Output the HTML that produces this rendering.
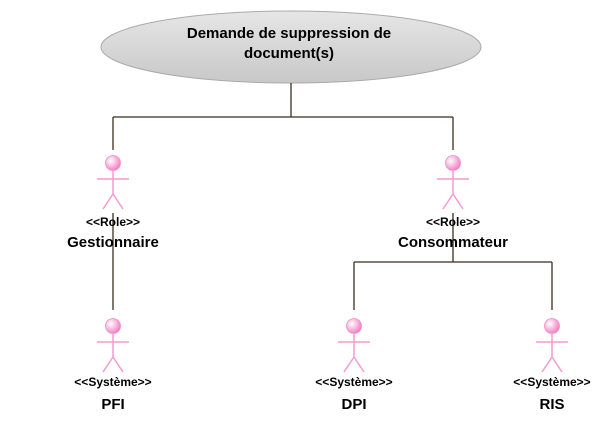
<!DOCTYPE html>
<html><head><style>body{margin:0;background:#fff}svg{display:block}</style></head><body>
<svg width="608" height="424" xmlns="http://www.w3.org/2000/svg" font-family="Liberation Sans, sans-serif" font-weight="bold">
<defs><radialGradient id="g" cx="0.35" cy="0.35" r="0.7"><stop offset="0" stop-color="#fff"/><stop offset="1" stop-color="#f37ac0"/></radialGradient>
<linearGradient id="e" x1="0" y1="0" x2="0" y2="1"><stop offset="0" stop-color="#e6e6e6"/><stop offset="1" stop-color="#c8c8c8"/></linearGradient></defs>
<ellipse cx="291" cy="47" rx="190" ry="36" fill="url(#e)" stroke="#aaa"/>
<text x="289" y="38" font-size="15" text-anchor="middle">Demande de suppression de</text>
<text x="289" y="58" font-size="15" text-anchor="middle">document(s)</text>
<g stroke="#3b2f1e" stroke-width="1.3" fill="none">
<path d="M291 83V117M113 117H453M113 117V150M453 117V150M113 213V310M453 213V262M354 262H552M354 262V310M552 262V310"/>
</g>
<g id="a" stroke="#f59ad0" stroke-width="1.5" fill="none">
</g>
<g stroke="#f59ad0" stroke-width="1.5">
<path d="M113 171V194M97 179H129M113 194L103 209M113 194L123 209"/>
<path d="M453 171V194M437 179H469M453 194L443 209M453 194L463 209"/>
<path d="M113 334V357M97 342H129M113 357L103 372M113 357L123 372"/>
<path d="M354 334V357M338 342H370M354 357L344 372M354 357L364 372"/>
<path d="M552 334V357M536 342H568M552 357L542 372M552 357L562 372"/>
</g>
<g fill="url(#g)" stroke="#f28cc6" stroke-width="0.8">
<circle cx="113" cy="163" r="7.5"/><circle cx="453" cy="163" r="7.5"/>
<circle cx="113" cy="326" r="7.5"/><circle cx="354" cy="326" r="7.5"/><circle cx="552" cy="326" r="7.5"/>
</g>
<g text-anchor="middle" fill="#000">
<text x="113" y="226" font-size="12">&lt;&lt;Role&gt;&gt;</text>
<text x="113" y="247" font-size="15">Gestionnaire</text>
<text x="453" y="226" font-size="12">&lt;&lt;Role&gt;&gt;</text>
<text x="453" y="247" font-size="15">Consommateur</text>
<text x="113" y="386" font-size="12">&lt;&lt;Système&gt;&gt;</text>
<text x="113" y="409" font-size="15">PFI</text>
<text x="354" y="386" font-size="12">&lt;&lt;Système&gt;&gt;</text>
<text x="354" y="409" font-size="15">DPI</text>
<text x="552" y="386" font-size="12">&lt;&lt;Système&gt;&gt;</text>
<text x="552" y="409" font-size="15">RIS</text>
</g>
</svg>
</body></html>
